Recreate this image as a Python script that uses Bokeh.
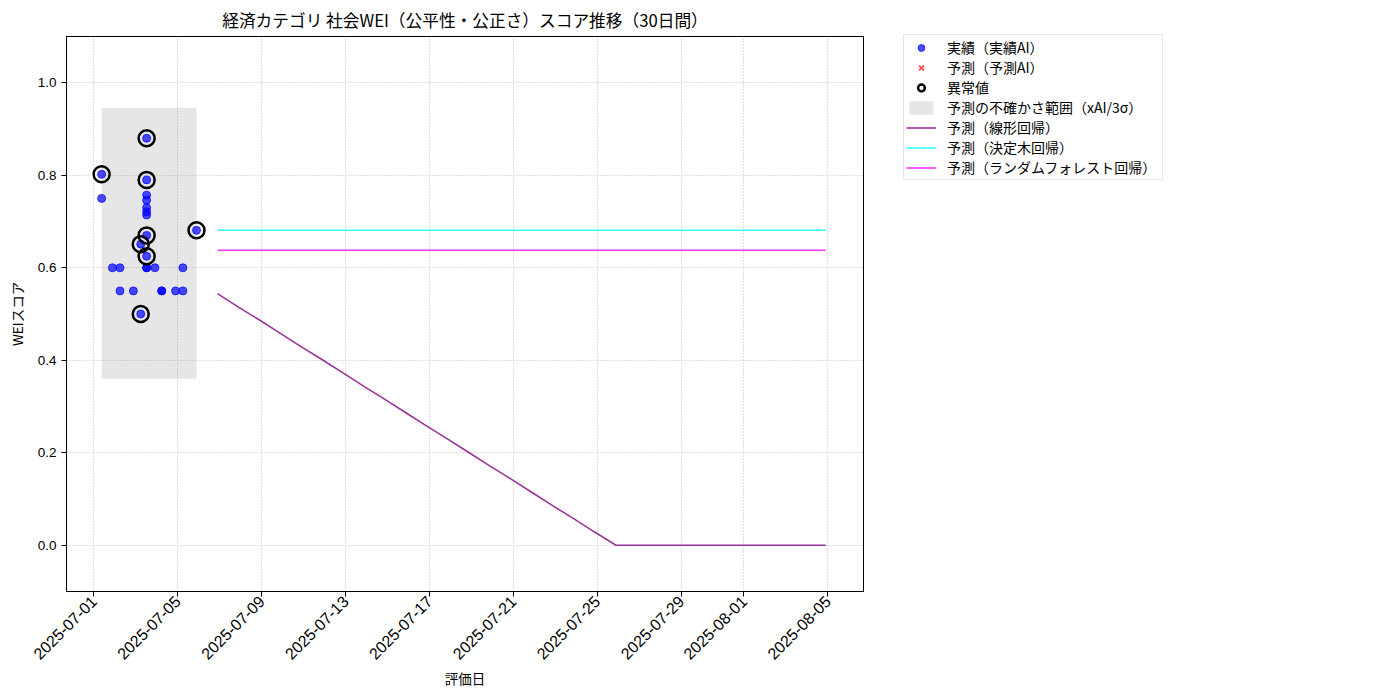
import pandas as pd
from math import pi
from bokeh.plotting import figure
from bokeh.models import (ColumnDataSource, Legend, LegendItem, FixedTicker,
                          DatetimeTickFormatter, NumeralTickFormatter, Range1d)
from bokeh.embed import file_html
from bokeh.resources import INLINE

FONT = "Noto Sans CJK JP"
NUM_FONT = "Liberation Sans"
title_text = "経済カテゴリ 社会WEI（公平性・公正さ）スコア推移（30日間）"

# ---- data ----
actual_dates = [
    "2025-07-01 09:00", "2025-07-01 09:00",
    "2025-07-01 21:20",
    "2025-07-02 06:00", "2025-07-02 06:00",
    "2025-07-02 21:20",
    "2025-07-03 05:45", "2025-07-03 05:45",
    "2025-07-03 12:30", "2025-07-03 12:30", "2025-07-03 12:30", "2025-07-03 12:30",
    "2025-07-03 12:30", "2025-07-03 12:30", "2025-07-03 12:30", "2025-07-03 12:30",
    "2025-07-03 12:30", "2025-07-03 12:30", "2025-07-03 12:30",
    "2025-07-03 22:00",
    "2025-07-04 05:45", "2025-07-04 05:45",
    "2025-07-04 21:35",
    "2025-07-05 06:00", "2025-07-05 06:00",
    "2025-07-05 21:35",
]
actual_scores = [
    0.802, 0.75,
    0.60,
    0.60, 0.55,
    0.55,
    0.651, 0.50,
    0.88, 0.79, 0.757, 0.746, 0.730, 0.721, 0.714, 0.67, 0.625, 0.60, 0.60,
    0.60,
    0.55, 0.55,
    0.55,
    0.60, 0.55,
    0.681,
]
anomaly_dates = ["2025-07-01 09:00", "2025-07-03 12:30", "2025-07-03 12:30",
                 "2025-07-03 12:30", "2025-07-03 05:45", "2025-07-03 12:30",
                 "2025-07-03 05:45", "2025-07-05 21:35"]
anomaly_scores = [0.802, 0.88, 0.79, 0.67, 0.651, 0.625, 0.50, 0.681]

# the prediction-AI series has no visible values in the chart
pred_ai_dates = ["2025-07-06 21:35"]
pred_ai_scores = [float("nan")]

band_dates = ["2025-07-01 09:00", "2025-07-05 21:35"]
band_lower = [0.36, 0.36]
band_upper = [0.946, 0.946]

pred_start = "2025-07-06 21:35"
pred_linear = [0.544, 0.515, 0.487, 0.458, 0.429, 0.401, 0.372, 0.343, 0.315, 0.286,
               0.257, 0.229, 0.200, 0.171, 0.143, 0.114, 0.085, 0.057, 0.028, 0.0,
               0.0, 0.0, 0.0, 0.0, 0.0, 0.0, 0.0, 0.0, 0.0, 0.0]
pred_tree = [0.681] * 30
pred_forest = [0.638] * 30

x_tick_dates = ["2025-07-01", "2025-07-05", "2025-07-09", "2025-07-13", "2025-07-17",
                "2025-07-21", "2025-07-25", "2025-07-29", "2025-08-01", "2025-08-05"]
y_ticks = [0.0, 0.2, 0.4, 0.6, 0.8, 1.0]

legend_labels = ["実績（実績AI）", "予測（予測AI）", "異常値",
                 "予測の不確かさ範囲（xAI/3σ）", "予測（線形回帰）",
                 "予測（決定木回帰）", "予測（ランダムフォレスト回帰）"]

# ---- build ----
def ms(s):
    return pd.Timestamp(s).value / 1e6

act_src = ColumnDataSource(dict(x=pd.to_datetime(actual_dates), y=actual_scores))
ano_src = ColumnDataSource(dict(x=pd.to_datetime(anomaly_dates), y=anomaly_scores))
pai_src = ColumnDataSource(dict(x=pd.to_datetime(pred_ai_dates), y=pred_ai_scores))
band_src = ColumnDataSource(dict(x=pd.to_datetime(band_dates), lo=band_lower, hi=band_upper))
pred_x = pd.date_range(pred_start, periods=len(pred_linear), freq="D")
pred_src = ColumnDataSource(dict(x=pred_x, lin=pred_linear, tree=pred_tree, rf=pred_forest))

x0 = ms("2025-07-01") - 1.30 * 86400000
x1 = ms("2025-07-01") + 36.70 * 86400000

FW, FH = 797, 555
p = figure(x_axis_type="datetime", output_backend="svg", toolbar_location=None,
           frame_width=FW, frame_height=FH,
           min_border_left=66, min_border_top=28, min_border_bottom=88, min_border_right=20,
           x_range=Range1d(x0, x1), y_range=Range1d(-0.1, 1.1),
           background_fill_color="white", border_fill_color="white")

p.title.text = title_text
p.title.align = "center"
p.title.text_font = FONT
p.title.text_font_size = "16.7px"
p.title.text_font_style = "normal"
p.title.text_color = "black"

p.outline_line_color = "black"
p.outline_line_alpha = 1.0
p.outline_line_width = 1

# axes
xt = FixedTicker(ticks=[ms(d) for d in x_tick_dates])
yt = FixedTicker(ticks=y_ticks)
p.xaxis.ticker = xt
p.yaxis.ticker = yt
p.xaxis.formatter = DatetimeTickFormatter(days="%Y-%m-%d", months="%Y-%m-%d",
                                          hours="%Y-%m-%d")
p.yaxis.formatter = NumeralTickFormatter(format="0.0")
p.xaxis.major_label_orientation = pi / 4
for ax in (p.xaxis, p.yaxis):
    ax.major_label_text_font = NUM_FONT
    ax.major_label_text_font_size = "13.5px"
    ax.major_label_text_color = "black"
    ax.axis_label_text_font = FONT
    ax.axis_label_text_font_size = "13.5px"
    ax.axis_label_text_font_style = "normal"
    ax.axis_label_text_color = "black"
    ax.minor_tick_line_color = None
    ax.major_tick_out = 5
    ax.major_tick_in = 0
    ax.axis_line_color = "black"
    ax.major_tick_line_color = "black"
p.xaxis.major_label_text_font_size = "16px"
p.xaxis.major_label_standoff = 2
p.xaxis.axis_label = "評価日"
p.yaxis.axis_label = "WEIスコア"
p.xaxis.axis_label_standoff = 0
p.yaxis.axis_label_standoff = 8

p.xgrid.ticker = xt
p.ygrid.ticker = yt
for g in (p.xgrid, p.ygrid):
    g.grid_line_color = "#b0b0b0"
    g.grid_line_dash = "1 2"
    g.grid_line_alpha = 0.8
    g.grid_line_width = 1

# glyphs
r_band = p.varea(x="x", y1="lo", y2="hi", source=band_src, fill_color="gray", fill_alpha=0.2)
r_act = p.scatter(x="x", y="y", source=act_src, size=8, color="blue", alpha=0.7)
r_pred_ai = p.scatter(x="x", y="y", source=pai_src, marker="x", size=12,
                      line_color="red", line_alpha=0.7, line_width=2)
r_ano = p.scatter(x="x", y="y", source=ano_src, size=16, fill_color=None,
                  line_color="black", line_width=2.5)
r_lin = p.line(x="x", y="lin", source=pred_src, color="purple", alpha=0.8, line_width=1.6)
r_tree = p.line(x="x", y="tree", source=pred_src, color="cyan", alpha=0.8, line_width=1.6)
r_rf = p.line(x="x", y="rf", source=pred_src, color="magenta", alpha=0.8, line_width=1.6)

renderers = [r_act, r_pred_ai, r_ano, r_band, r_lin, r_tree, r_rf]
LEG_H = 144
legend = Legend(items=[LegendItem(label=lab, renderers=[r])
                       for lab, r in zip(legend_labels, renderers)],
                location=(40, FH - LEG_H))
legend.label_text_font = FONT
legend.label_text_font_size = "14px"
legend.label_text_color = "black"
legend.label_height = 17
legend.label_width = 213
legend.glyph_height = 17
legend.glyph_width = 30
legend.spacing = 0
legend.padding = 2
legend.margin = 20
legend.label_standoff = 11
legend.border_line_color = "#cccccc"
legend.border_line_width = 1
legend.background_fill_color = "white"
legend.background_fill_alpha = 1.0
p.add_layout(legend, "right")

open("out.html", "w").write(file_html(p, INLINE))
